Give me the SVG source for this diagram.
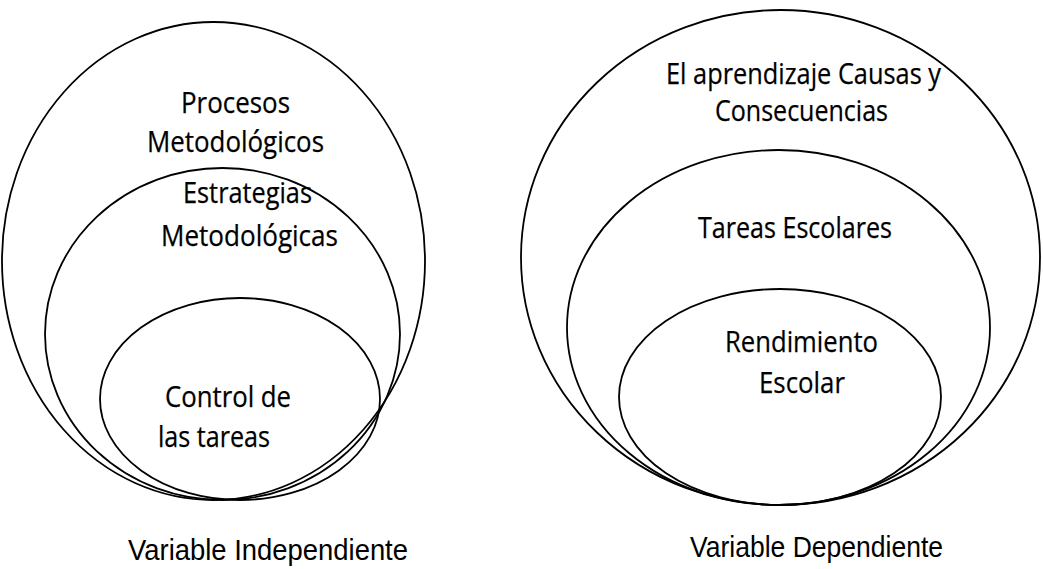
<svg xmlns="http://www.w3.org/2000/svg" width="1043" height="569" viewBox="0 0 1043 569">
<style>
.e{fill:none;stroke:#000;stroke-width:1.8}
.t{font-family:"Open Sans",Lato,"Liberation Sans",sans-serif;font-size:29px;fill:#000;stroke:#000;stroke-width:0.25}
.b{font-family:"Liberation Sans",Arial,sans-serif;font-size:29px;fill:#000}
</style>
<rect width="1043" height="569" fill="#fff"/>
<g id="left-outer"><ellipse class="e" cx="213.5" cy="261" rx="211.5" ry="239"/>
<text class="t" x="181" y="113" textLength="109" lengthAdjust="spacingAndGlyphs">Procesos</text>
<text class="t" x="147" y="152" textLength="177" lengthAdjust="spacingAndGlyphs">Metodológicos</text></g>
<g id="left-middle"><ellipse class="e" cx="222.5" cy="334" rx="177.5" ry="166"/>
<text class="t" x="183" y="203" textLength="129" lengthAdjust="spacingAndGlyphs">Estrategias</text>
<text class="t" x="161" y="246" textLength="177" lengthAdjust="spacingAndGlyphs">Metodológicas</text></g>
<g id="left-inner"><ellipse class="e" cx="240" cy="399" rx="140" ry="101"/>
<text class="t" x="165" y="407" textLength="126" lengthAdjust="spacingAndGlyphs">Control de</text>
<text class="t" x="158" y="447" textLength="112" lengthAdjust="spacingAndGlyphs">las tareas</text></g>
<g id="right-outer"><ellipse class="e" cx="780.5" cy="257.5" rx="259.5" ry="247.5"/>
<text class="t" x="666" y="84" textLength="275" lengthAdjust="spacingAndGlyphs">El aprendizaje Causas y</text>
<text class="t" x="715" y="121" textLength="173" lengthAdjust="spacingAndGlyphs">Consecuencias</text></g>
<g id="right-middle"><ellipse class="e" cx="778.5" cy="327.5" rx="211.5" ry="177.5"/>
<text class="t" x="698" y="238" textLength="194" lengthAdjust="spacingAndGlyphs">Tareas Escolares</text></g>
<g id="right-inner"><ellipse class="e" cx="780" cy="397" rx="161" ry="108"/>
<text class="t" x="725" y="352" textLength="153" lengthAdjust="spacingAndGlyphs">Rendimiento</text>
<text class="t" x="759" y="393" textLength="86" lengthAdjust="spacingAndGlyphs">Escolar</text></g>
<g id="connectors"/>
<text class="b" x="128" y="560" textLength="280" lengthAdjust="spacingAndGlyphs">Variable Independiente</text>
<text class="b" x="690" y="557" textLength="253" lengthAdjust="spacingAndGlyphs">Variable Dependiente</text>
</svg>
